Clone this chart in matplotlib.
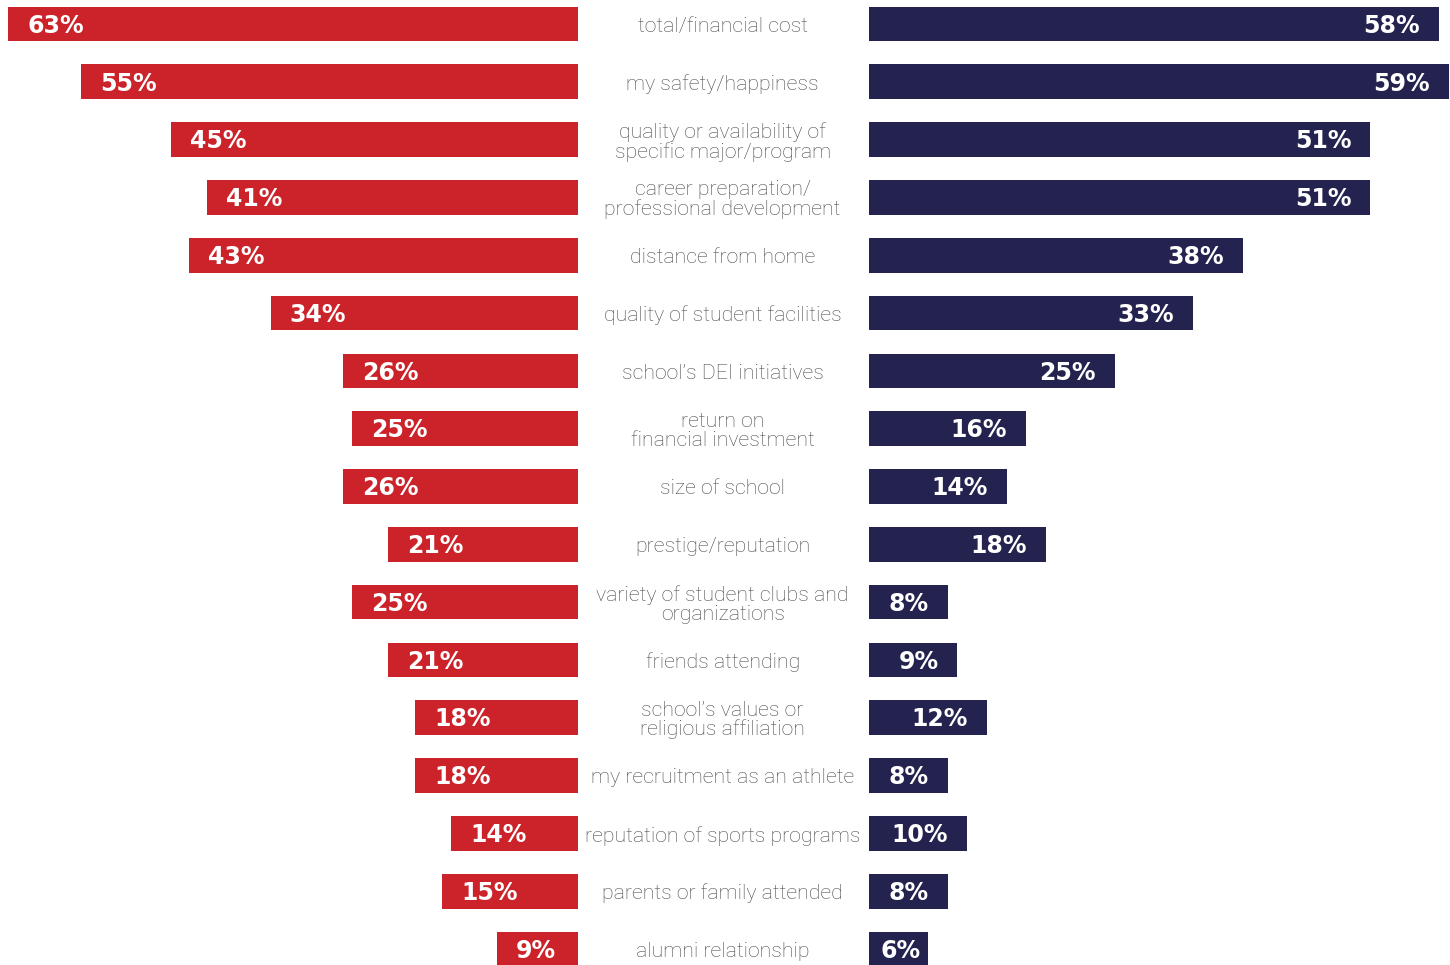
import matplotlib
matplotlib.use("Agg")
import matplotlib.pyplot as plt
import numpy as np

categories = [
    "total/financial cost",
    "my safety/happiness",
    "quality or availability of\nspecific major/program",
    "career preparation/\nprofessional development",
    "distance from home",
    "quality of student facilities",
    "school\u2019s DEI initiatives",
    "return on\nfinancial investment",
    "size of school",
    "prestige/reputation",
    "variety of student clubs and\norganizations",
    "friends attending",
    "school\u2019s values or\nreligious affiliation",
    "my recruitment as an athlete",
    "reputation of sports programs",
    "parents or family attended",
    "alumni relationship",
]
left_values = [63, 55, 45, 41, 43, 34, 26, 25, 26, 21, 25, 21, 18, 18, 14, 15, 9]
right_values = [58, 59, 51, 51, 38, 33, 25, 16, 14, 18, 8, 9, 12, 8, 10, 8, 6]

RED = "#cc2229"
NAVY = "#24234f"
GREY = "#4a4a4a"

W, H = 1450, 965
fig = plt.figure(figsize=(W / 100, H / 100), dpi=100)

y = np.arange(len(categories))
row = 57.8
top = 24 / row
ylim = (len(categories) - 1 + (H - 949) / row, -top)

pct_style = dict(color="white", fontsize=17, fontfamily="DejaVu Sans",
                 fontweight="bold", va="center")

# left panel: bars grow leftwards from x=578
lscale = 9.04  # px per percent
axl = fig.add_axes([0, 0, 578 / W, 1])
axl.barh(y, left_values, height=0.6, color=RED)
axl.set_xlim(578 / lscale, 0)
axl.set_ylim(*ylim)
axl.axis("off")
for yi, v in zip(y, left_values):
    axl.text(v - 19 / lscale, yi + 0.03, f"{v}%", ha="left", **pct_style)

# right panel: bars grow rightwards from x=869
rscale = 9.83
axr = fig.add_axes([869 / W, 0, (W - 869) / W, 1])
axr.barh(y, right_values, height=0.6, color=NAVY)
axr.set_xlim(0, (W - 869) / rscale)
axr.set_ylim(*ylim)
axr.axis("off")
for yi, v in zip(y, right_values):
    xpos = max(v - 19 / rscale, 52 / rscale)
    axr.text(xpos, yi + 0.03, f"{v}%", ha="right", **pct_style)

# category labels in the middle
axm = fig.add_axes([578 / W, 0, (869 - 578) / W, 1])
axm.set_xlim(0, 1)
axm.set_ylim(*ylim)
axm.axis("off")
for yi, c in zip(y, categories):
    axm.text(0.497, yi + 0.04, c, ha="center", va="center", color=GREY,
             fontsize=15.3, fontfamily="Roboto", fontweight="light", linespacing=1.0)

fig.savefig("out.png", dpi=100)
